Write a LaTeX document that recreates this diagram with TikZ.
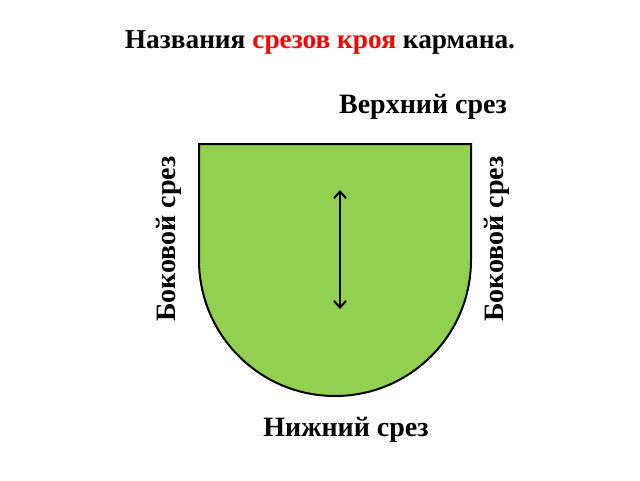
\documentclass[tikz,border=0pt]{standalone}
\usepackage{fontspec}
\setmainfont{Liberation Serif}
\usetikzlibrary{arrows.meta}

\definecolor{pocketgreen}{HTML}{92D050}
\definecolor{cutred}{HTML}{FF0000}

\begin{document}
\begin{tikzpicture}[x=0.75pt, y=-0.75pt, >={Straight Barb[length=5pt, width=9pt]},
		label/.style={font=\fontsize{21}{24}\selectfont\bfseries, inner sep=0pt}]
		
		% --- canvas ---
		\useasboundingbox (0,0) rectangle (640,480);
		
		% --- title ---
		\node[label, font=\fontsize{20.5}{24}\selectfont\bfseries] (title) at (320,42)
		{Названия \textcolor{cutred}{срезов кроя} кармана.};
		
		% --- pocket shape ---
		\draw[fill=pocketgreen, line width=1.5pt]
		(199,260) -- (199,144) -- (471,144) -- (471,260)
		arc[start angle=0, end angle=180, radius=136];
		
		% --- grain line ---
		\coordinate (gtop) at (340,190);
		\coordinate (gbot) at (340,309);
		\draw[<->, line width=1.5pt] (gtop) -- (gbot);
		
		% --- cut names ---
		\node[label] (top) at (423,107) {Верхний срез};
		\node[label, rotate=90] (left) at (169,239) {Боковой срез};
		\node[label, rotate=90] (right) at (497,239) {Боковой срез};
		\node[label] (bottom) at (346,430) {Нижний срез};
		
	\end{tikzpicture}
\end{document}
